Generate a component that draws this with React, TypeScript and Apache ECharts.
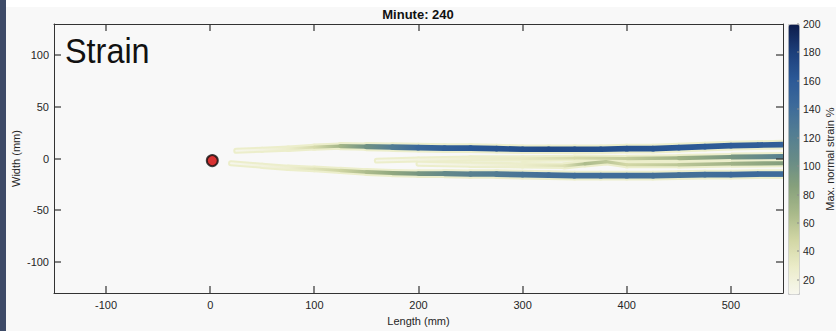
import React, { useEffect, useRef } from 'react';
import * as echarts from 'echarts';

// ---------- data ----------
const xTicks = [-100, 0, 100, 200, 300, 400, 500];
const yTicks = [-100, -50, 0, 50, 100];
const cbTicks = [20, 40, 60, 80, 100, 120, 140, 160, 180, 200];
const origin = [2, -2];

// upper streak
const aX = [25, 50, 75, 100, 125, 150, 175, 200, 225, 250, 275, 300, 325, 350, 375, 400, 425, 450, 475, 500, 525, 550];
const aY = [7.5, 8.5, 9.5, 11, 12, 11.5, 11, 10.5, 10, 10, 9.5, 9, 9, 9, 9, 9.5, 9.5, 10.5, 11.5, 12.5, 13, 13.5];
const aS = [12, 18, 28, 45, 70, 100, 125, 145, 155, 162, 165, 168, 172, 170, 168, 166, 165, 162, 160, 158, 156, 155];
// lower streak
const bX = [20, 50, 75, 100, 125, 150, 175, 200, 225, 250, 275, 300, 325, 350, 375, 400, 425, 450, 475, 500, 525, 550];
const bY = [-4.5, -7, -9, -10, -11.5, -13, -14, -14.5, -14.5, -15, -15, -15.5, -16, -16.5, -16.5, -16.5, -16.5, -16, -15.5, -15.5, -15, -15];
const bS = [12, 18, 25, 38, 50, 65, 80, 95, 108, 118, 125, 132, 138, 140, 140, 140, 138, 136, 138, 142, 142, 142];
// upper middle streak
const cX = [160, 200, 250, 300, 350, 400, 450, 500, 550];
const cY = [-2, -1, 0, 0, 0.5, 0, 0.5, 1.5, 2];
const cS = [12, 18, 25, 32, 45, 55, 72, 95, 120];
// lower middle streak
const dX = [200, 250, 300, 340, 360, 380, 400, 450, 500, 550];
const dY = [-5, -6, -6.5, -7, -5, -3, -6, -6, -5, -4.5];
const dS = [12, 18, 28, 40, 65, 58, 48, 58, 72, 88];

const cmap = ['#f7f7ef', '#ebecc9', '#d2d7a5', '#a9b98a', '#86a07c', '#678b87', '#527d93', '#3d6a9a', '#2b5896', '#1c3e79', '#0d1c4b'];
const vMin = 10;
const vMax = 200;
const xMin = -150;
const xMax = 550;
const yMin = -130;
const yMax = 130;

const streaks = [
  [aX, aY, aS],
  [bX, bY, bS],
  [cX, cY, cS],
  [dX, dY, dS],
];

function buildSegments() {
  const out: number[][] = [];
  streaks.forEach(([xs, ys, ss]) => {
    for (let i = 0; i < xs.length - 1; i++) {
      out.push([xs[i], ys[i], xs[i + 1], ys[i + 1], (ss[i] + ss[i + 1]) / 2, ss[i], ss[i + 1]]);
    }
  });
  return out;
}

const FONT = '"Liberation Sans", Arial, Helvetica, sans-serif';
const TXT = '#262626';
const AX = '#333333';

const colorOf = (s: number) => {
  const t = Math.max(0, Math.min(1, (s - vMin) / (vMax - vMin)));
  return echarts.color.lerp(t, cmap) as string;
};

function mainAxis(pos: string, min: number, max: number, ticks: number[], labels: boolean, extra: any = {}) {
  return {
    type: 'value',
    gridIndex: 0,
    position: pos,
    min,
    max,
    axisLine: { show: true, onZero: false, lineStyle: { color: AX, width: 1 } },
    axisTick: { show: false },
    axisLabel: labels
      ? { show: true, customValues: ticks.slice(), fontSize: 11, color: TXT, fontFamily: FONT, margin: pos === 'bottom' ? 6 : 5 }
      : { show: false },
    splitLine: { show: false },
    ...extra,
  };
}

export default function App() {
  const ref = useRef<HTMLDivElement>(null);
  useEffect(() => {
    if (!ref.current) return;
    const chart = echarts.init(ref.current, undefined, { renderer: 'svg' });
    const segs = buildSegments();
    const widthOf = (s: number) => 1.5 + 4.2 * Math.min(1, s / 130);
    const mkItem = (halo: boolean) => (params: any, api: any) => {
      const x0 = api.value(0);
      const x1 = api.value(2);
      const p0 = api.coord([x0, api.value(1)]);
      const p1 = api.coord([x1, api.value(3)]);
      const s = api.value(4);
      const s0 = api.value(5);
      const s1 = api.value(6);
      const cap = x1 >= xMax ? 'butt' : 'round';
      if (halo) {
        return {
          type: 'line',
          shape: { x1: p0[0], y1: p0[1], x2: p1[0], y2: p1[1] },
          style: { stroke: '#eceecb', lineWidth: widthOf(s) + 4, lineCap: cap },
        };
      }
      const grad = new echarts.graphic.LinearGradient(
        p0[0], p0[1], p1[0], p1[1],
        [{ offset: 0, color: colorOf(s0) }, { offset: 1, color: colorOf(s1) }],
        true
      );
      return {
        type: 'line',
        shape: { x1: p0[0], y1: p0[1], x2: p1[0], y2: p1[1] },
        style: { stroke: grad, lineWidth: widthOf(s), lineCap: cap },
      };
    };
    // tick marks (inside, MATLAB box style) at every tick value on all four sides
    const tickData = [
      ...xTicks.map((v) => [v, 0]),
      ...yTicks.map((v) => [v, 1]),
    ];
    const tickItem = (params: any, api: any) => {
      const v = api.value(0);
      const kind = api.value(1);
      const L = 7;
      if (kind === 0) {
        const b = api.coord([v, yMin]);
        const t = api.coord([v, yMax]);
        const x = Math.round(b[0]);
        return {
          type: 'group',
          children: [
            { type: 'rect', shape: { x: x - 0.6, y: b[1] - L, width: 1.2, height: L }, style: { fill: AX } },
            { type: 'rect', shape: { x: x - 0.6, y: t[1], width: 1.2, height: L }, style: { fill: AX } },
          ],
        };
      }
      const l = api.coord([xMin, v]);
      const r = api.coord([xMax, v]);
      const y = Math.round(l[1]);
      return {
        type: 'group',
        children: [
          { type: 'rect', shape: { x: l[0], y: y - 0.6, width: L, height: 1.2 }, style: { fill: AX } },
          { type: 'rect', shape: { x: r[0] - L, y: y - 0.6, width: L, height: 1.2 }, style: { fill: AX } },
        ],
      };
    };
    const cbTickItem = (params: any, api: any) => {
      const v = api.value(0);
      const p = api.coord([1, v]);
      const y = Math.round(p[1]);
      return {
        type: 'rect',
        shape: { x: p[0] - 2, y: y - 0.5, width: 2, height: 1 },
        style: { fill: '#8a8a8a' },
      };
    };
    const option: any = {
      animation: false,
      backgroundColor: '#f8f8f8',
      textStyle: { fontFamily: FONT },
      title: {
        text: 'Minute: 240',
        left: 'center',
        top: 3,
        textStyle: { fontSize: 13, fontWeight: 'bold', color: '#111', fontFamily: FONT },
      },
      grid: [
        { left: 54, top: 24, width: 729, height: 270 },
        { left: 788, top: 24, width: 11, height: 270 },
      ],
      xAxis: [
        mainAxis('bottom', xMin, xMax, xTicks, true, {
          name: 'Length (mm)', nameLocation: 'middle', nameGap: 21,
          nameTextStyle: { fontSize: 11, color: TXT, fontFamily: FONT },
        }),
        mainAxis('top', xMin, xMax, xTicks, false),
        { type: 'value', gridIndex: 1, min: 0, max: 1, show: false },
      ],
      yAxis: [
        mainAxis('left', yMin, yMax, yTicks, true, {
          name: 'Width (mm)', nameLocation: 'middle', nameGap: 33, nameMoveOverlap: false,
          nameTextStyle: { fontSize: 11, color: TXT, fontFamily: FONT },
        }),
        mainAxis('right', yMin, yMax, yTicks, false),
        {
          type: 'value', gridIndex: 1, position: 'right', min: vMin, max: vMax,
          name: 'Max. normal strain %', nameLocation: 'middle', nameGap: 25, nameRotate: 90, nameMoveOverlap: false,
          nameTextStyle: { fontSize: 11, color: TXT, fontFamily: FONT },
          axisLine: { show: false, onZero: false },
          axisTick: { show: false },
          axisLabel: { show: true, customValues: cbTicks, margin: 4, fontSize: 10.5, color: TXT, fontFamily: FONT },
          splitLine: { show: false },
        },
      ],
      visualMap: {
        type: 'continuous',
        min: vMin,
        max: vMax,
        dimension: 4,
        seriesIndex: [1],
        inRange: { color: cmap },
        left: 788,
        top: 24,
        itemWidth: 11,
        itemHeight: 270,
        calculable: false,
        hoverLink: false,
        padding: 0,
        borderColor: '#c8c8c8',
        borderWidth: 1,
        text: null,
      },
      graphic: [
        { type: 'rect', left: 0, top: 0, shape: { width: 836, height: 7 }, style: { fill: '#ffffff' }, silent: true },
        { type: 'rect', left: 0, top: 0, shape: { width: 6, height: 331 }, style: { fill: '#3e4b68' }, silent: true },
        {
          type: 'text', x: 65, y: 50.5, scaleX: 0.9,
          style: { text: 'Strain', fontSize: 36, fontFamily: FONT, fill: '#111', verticalAlign: 'middle', textAlign: 'left' },
          silent: true,
        },
      ],
      series: [
        {
          type: 'custom', name: 'halo', xAxisIndex: 0, yAxisIndex: 0, clip: false, z: 2,
          encode: { x: [0, 2], y: [1, 3] },
          data: segs,
          renderItem: mkItem(true),
        },
        {
          type: 'custom', name: 'strain', xAxisIndex: 0, yAxisIndex: 0, clip: false, z: 3,
          encode: { x: [0, 2], y: [1, 3] },
          data: segs,
          renderItem: mkItem(false),
        },
        {
          type: 'scatter', name: 'origin', xAxisIndex: 0, yAxisIndex: 0, z: 5,
          data: [origin],
          symbol: 'circle', symbolSize: 11,
          itemStyle: { color: '#d00000', borderColor: '#111', borderWidth: 2 },
        },
        {
          type: 'custom', name: 'ticks', xAxisIndex: 0, yAxisIndex: 0, clip: false, z: 6, silent: true,
          encode: { x: 0, y: 1 },
          data: tickData,
          renderItem: tickItem,
        },
        {
          type: 'custom', name: 'cbticks', xAxisIndex: 2, yAxisIndex: 2, clip: false, z: 6, silent: true,
          encode: { y: 0 },
          data: cbTicks.map((v) => [v]),
          renderItem: cbTickItem,
        },
      ],
    };
    chart.setOption(option);
    return () => chart.dispose();
  }, []);
  return (
    <div
      ref={ref}
      style={{ position: 'absolute', left: 0, top: 0, width: 836, height: 331 }}
    />
  );
}
